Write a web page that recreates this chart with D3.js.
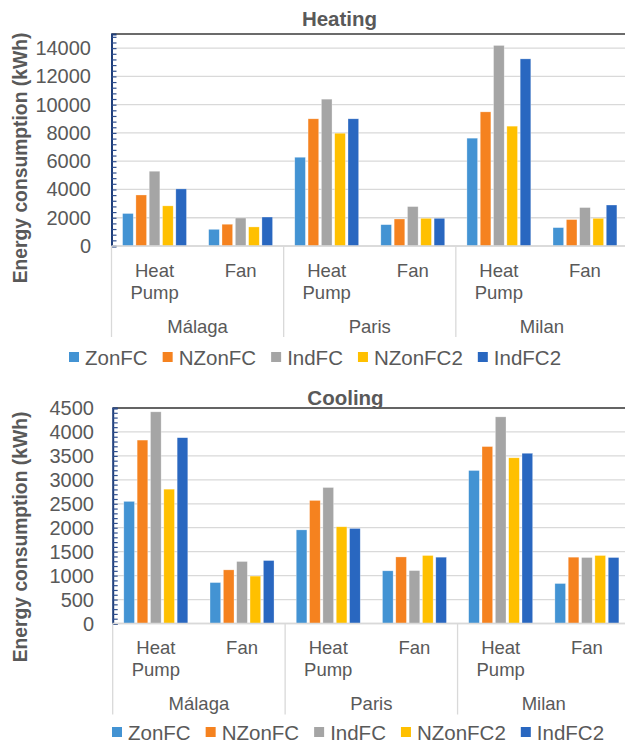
<!DOCTYPE html>
<html>
<head>
<meta charset="utf-8">
<script src="https://cdn.jsdelivr.net/npm/d3@7"></script>
<style>
  html, body { margin: 0; padding: 0; background: #fff; overflow: hidden; }
  svg { display: block; font-family: "Liberation Sans", Arial, sans-serif; }
</style>
</head>
<body>
<svg id="chart" width="625" height="743"></svg>
<script>
// ---------- data ----------
const cities = ["Málaga", "Paris", "Milan"];
const systems = ["Heat Pump", "Fan"];
const series = ["ZonFC", "NZonFC", "IndFC", "NZonFC2", "IndFC2"];
const seriesColors = ["#4393D3", "#F5821F", "#A5A5A5", "#FFC000", "#2967C0"];

// heating values, order: [Málaga HP, Málaga Fan, Paris HP, Paris Fan, Milan HP, Milan Fan]
const heatZonFC   = [2300, 1180, 6280, 1510, 7630, 1300];
const heatNZonFC  = [3610, 1540, 9000, 1910, 9490, 1870];
const heatIndFC   = [5290, 1980, 10390, 2790, 14190, 2720];
const heatNZonFC2 = [2840, 1350, 7980, 1960, 8480, 1960];
const heatIndFC2  = [4040, 2050, 9000, 1960, 13240, 2900];

// cooling values
const coolZonFC   = [2550, 855, 1955, 1100, 3195, 835];
const coolNZonFC  = [3830, 1120, 2570, 1390, 3695, 1385];
const coolIndFC   = [4420, 1295, 2840, 1105, 4315, 1378];
const coolNZonFC2 = [2805, 990, 2020, 1420, 3460, 1420];
const coolIndFC2  = [3880, 1315, 1985, 1385, 3555, 1378];

const heatTicks = [0, 2000, 4000, 6000, 8000, 10000, 12000, 14000];
const coolTicks = [0, 500, 1000, 1500, 2000, 2500, 3000, 3500, 4000, 4500];

// ---------- drawing ----------
const svg = d3.select("#chart");
const TXT = "#595959";

function drawPanel(cfg) {
  const g = svg.append("g");
  const cats = [];
  cities.forEach(c => systems.forEach(s => cats.push(c + "|" + s)));

  const x0 = d3.scaleBand().domain(cats).range([cfg.left, cfg.right]).padding(0);
  const xc = d3.scaleBand().domain(cities).range([cfg.left, cfg.right]).padding(0);
  const x1 = d3.scaleBand().domain(series).range([0, x0.bandwidth()])
    .paddingInner(0.2).paddingOuter(0.833);
  const y = d3.scaleLinear().domain([0, cfg.max]).range([cfg.bottom, cfg.top]);

  // gridlines
  g.append("g").selectAll("line").data(cfg.ticks).join("line")
    .attr("x1", cfg.left).attr("x2", cfg.right)
    .attr("y1", d => y(d)).attr("y2", d => y(d))
    .attr("stroke", "#D9D9D9").attr("stroke-width", 1.3);

  // top border
  g.append("line").attr("x1", cfg.left).attr("x2", cfg.right)
    .attr("y1", y(cfg.max)).attr("y2", y(cfg.max))
    .attr("stroke", "#3A3A3A").attr("stroke-width", 1.5);

  // bars
  const rows = cats.map((c, i) => ({ cat: c, vals: cfg.values.map(v => v[i]) }));
  const grp = g.append("g").selectAll("g").data(rows).join("g")
    .attr("transform", d => `translate(${x0(d.cat)},0)`);
  grp.selectAll("rect").data(d => d.vals.map((v, k) => ({ v, k })))
    .join("rect")
    .attr("x", d => x1(series[d.k]))
    .attr("width", x1.bandwidth())
    .attr("y", d => y(d.v))
    .attr("height", d => y(0) - y(d.v))
    .attr("fill", d => seriesColors[d.k])
    .attr("stroke", "#ffffff").attr("stroke-opacity", 0.5).attr("stroke-width", 0.6);

  // y axis line with minor ticks
  const yAxis = d3.axisRight(y)
    .tickValues(d3.range(0, cfg.max + cfg.minor / 2, cfg.minor))
    .tickSize(5).tickFormat("");
  const ya = g.append("g").attr("transform", `translate(${cfg.left},0)`).call(yAxis);
  ya.select(".domain").attr("stroke", "#203F7A").attr("stroke-width", 2);
  ya.selectAll(".tick line").attr("stroke", "#2F4F8F").attr("stroke-width", 1.2);

  // y tick labels
  g.append("g").selectAll("text").data(cfg.ticks).join("text")
    .attr("x", cfg.labelX).attr("y", d => y(d))
    .attr("text-anchor", "end").attr("dominant-baseline", "central")
    .attr("font-size", 20).attr("fill", TXT)
    .text(d => d);

  // x axis baseline
  g.append("line").attr("x1", cfg.left).attr("x2", cfg.right)
    .attr("y1", y(0)).attr("y2", y(0))
    .attr("stroke", "#D9D9D9").attr("stroke-width", 1.3);

  // group separators
  const seps = cities.map(c => xc(c)).concat([cfg.right]);
  g.append("g").selectAll("line").data(seps).join("line")
    .attr("x1", d => d).attr("x2", d => d)
    .attr("y1", y(0)).attr("y2", y(0) + 91)
    .attr("stroke", "#D9D9D9").attr("stroke-width", 1.3);

  // subcategory labels
  const sub = g.append("g").selectAll("text").data(cats).join("text")
    .attr("text-anchor", "middle").attr("font-size", 18.5).attr("fill", TXT);
  sub.each(function (d) {
    const cx = x0(d) + x0.bandwidth() / 2;
    const words = d.split("|")[1].split(" ");
    const t = d3.select(this);
    words.forEach((w, i) => {
      t.append("tspan").attr("x", cx).attr("y", y(0) + cfg.sub1 + i * 22)
        .attr("dominant-baseline", "central").text(w);
    });
  });

  // city labels
  g.append("g").selectAll("text").data(cities).join("text")
    .attr("x", d => xc(d) + xc.bandwidth() / 2).attr("y", y(0) + 80)
    .attr("text-anchor", "middle").attr("dominant-baseline", "central")
    .attr("font-size", 18.5).attr("fill", TXT).text(d => d);

  // title
  g.append("text").attr("x", cfg.titleX).attr("y", cfg.titleY)
    .attr("text-anchor", "middle").attr("dominant-baseline", "central")
    .attr("font-size", 20.5).attr("font-weight", "bold").attr("fill", TXT)
    .text(cfg.title);

  // y axis title
  g.append("text")
    .attr("transform", `translate(20,${cfg.yTitleY}) rotate(-90)`)
    .attr("text-anchor", "middle").attr("dominant-baseline", "central")
    .attr("font-size", 19.3).attr("font-weight", "bold").attr("fill", TXT)
    .text("Energy consumption (kWh)");

  // legend
  const leg = g.append("g");
  let lx = cfg.legendX;
  series.forEach((s, k) => {
    leg.append("rect").attr("x", lx).attr("y", cfg.legendY - 5)
      .attr("width", 10).attr("height", 10).attr("fill", seriesColors[k]);
    const t = leg.append("text").attr("x", lx + 16).attr("y", cfg.legendY)
      .attr("dominant-baseline", "central").attr("font-size", 20.5).attr("fill", TXT)
      .text(s);
    lx += 16 + t.node().getComputedTextLength() + 15;
  });
}

drawPanel({
  title: "Heating", titleX: 339.5, titleY: 18,
  left: 111.5, right: 628, top: 34, bottom: 246,
  max: 15000, minor: 400, ticks: heatTicks, labelX: 91,
  values: [heatZonFC, heatNZonFC, heatIndFC, heatNZonFC2, heatIndFC2],
  sub1: 24, yTitleY: 158, legendX: 69, legendY: 357
});

drawPanel({
  title: "Cooling", titleX: 345.5, titleY: 397,
  left: 112.7, right: 630, top: 408, bottom: 623.5,
  max: 4500, minor: 100, ticks: coolTicks, labelX: 94,
  values: [coolZonFC, coolNZonFC, coolIndFC, coolNZonFC2, coolIndFC2],
  sub1: 23.5, yTitleY: 537, legendX: 112, legendY: 732
});
</script>
</body>
</html>
